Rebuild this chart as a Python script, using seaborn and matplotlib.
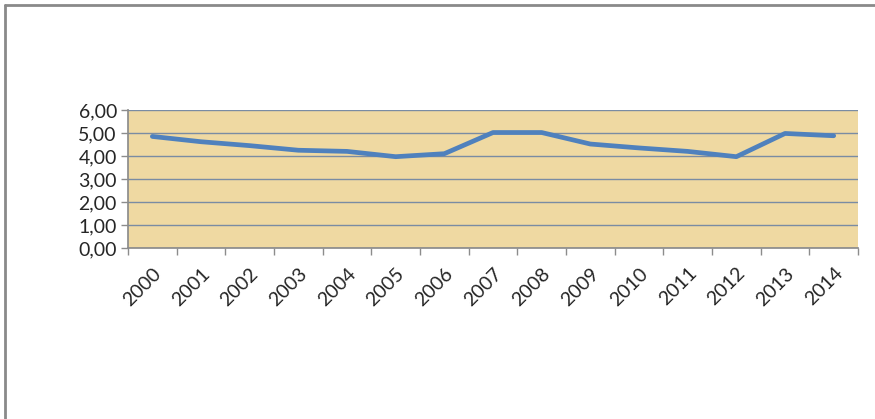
import matplotlib
matplotlib.use("Agg")
import matplotlib.pyplot as plt
from matplotlib.lines import Line2D
from matplotlib.ticker import FixedLocator, FuncFormatter
import pandas as pd
import seaborn as sns

years = [str(y) for y in range(2000, 2015)]
values = [4.85, 4.62, 4.45, 4.25, 4.2, 3.97, 4.1, 5.02, 5.02, 4.52, 4.35, 4.2, 3.97, 4.98, 4.88]
y_ticks = [0, 1, 2, 3, 4, 5, 6]

sns.set_theme(style="white")
plt.rcParams["font.family"] = ["Lato", "DejaVu Sans"]

df = pd.DataFrame({"year": years, "value": values})

fig = plt.figure(figsize=(8.75, 4.19), dpi=100)
ax = fig.add_axes([0.1463, 0.4081, 0.8343, 0.3294])
ax.set_facecolor("#EFD9A2")

sns.lineplot(data=df, x="year", y="value", color="#4F81BD", linewidth=3.4, ax=ax, zorder=3)

ax.set_xlim(-0.5, len(years) - 0.5)
ax.set_ylim(0, 6)
ax.yaxis.set_major_locator(FixedLocator(y_ticks))
ax.yaxis.set_major_formatter(FuncFormatter(lambda v, _: f"{v:.2f}".replace(".", ",")))
ax.grid(axis="y", color="#7A8CA3", linewidth=1.0, zorder=1)
ax.set_axisbelow(True)

# category boundaries carry the tick marks, labels sit at the centres
ax.set_xticks(range(len(years)))
ax.set_xticklabels(years, rotation=45, ha="right", rotation_mode="anchor", fontsize=14)
ax.xaxis.set_minor_locator(FixedLocator([i - 0.5 for i in range(len(years) + 1)]))
ax.tick_params(axis="x", which="major", length=0, pad=12)
ax.tick_params(axis="x", which="minor", length=5, color="#8C8C8C", width=1, bottom=True)
ax.tick_params(axis="y", length=5, color="#8C8C8C", width=1, left=True, labelsize=14, pad=3)

for side in ["top", "right"]:
    ax.spines[side].set_visible(False)
ax.spines["left"].set_color("#8C8C8C")
ax.spines["bottom"].set_color("#8C8C8C")
ax.set_xlabel("")
ax.set_ylabel("")

# outer chart frame (top and left edges visible)
fig.add_artist(Line2D([5 / 875, 1], [1 - 5 / 419, 1 - 5 / 419], transform=fig.transFigure, color="#8A8A8A", linewidth=2))
fig.add_artist(Line2D([5 / 875, 5 / 875], [0, 1 - 5 / 419], transform=fig.transFigure, color="#8A8A8A", linewidth=2))

fig.savefig("out.png", dpi=100)
